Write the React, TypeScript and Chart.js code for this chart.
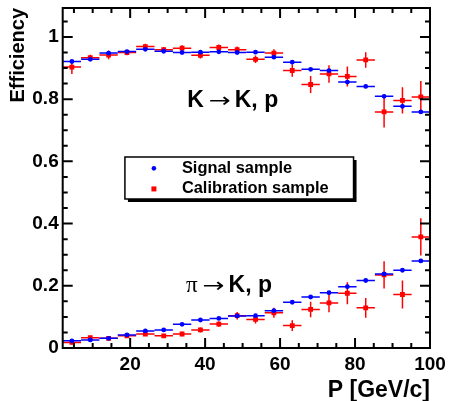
import React, { useEffect, useRef } from "react";
import { Chart, registerables } from "chart.js";
Chart.register(...registerables);

// ---- data ----
const binCenters = [4.45, 9.35, 14.25, 19.15, 24.05, 28.95, 33.85, 38.75, 43.65, 48.55, 53.45, 58.35, 63.25, 68.15, 73.05, 77.95, 82.85, 87.75, 92.65, 97.55];
const binHalfWidth = 2.45;

const kSignal = [0.921, 0.928, 0.948, 0.953, 0.960, 0.954, 0.950, 0.951, 0.952, 0.950, 0.951, 0.935, 0.919, 0.896, 0.892, 0.855, 0.841, 0.809, 0.777, 0.759];
const kSignalErr = [0.004, 0.003, 0.003, 0.003, 0.003, 0.003, 0.003, 0.003, 0.003, 0.003, 0.003, 0.003, 0.003, 0.004, 0.004, 0.004, 0.004, 0.005, 0.006, 0.006];
const kCalib = [0.903, 0.933, 0.942, 0.950, 0.969, 0.959, 0.964, 0.941, 0.966, 0.959, 0.928, 0.948, 0.892, 0.847, 0.881, 0.873, 0.926, 0.759, 0.796, 0.807];
const kCalibErr = [0.022, 0.010, 0.014, 0.009, 0.009, 0.009, 0.009, 0.010, 0.010, 0.010, 0.012, 0.012, 0.020, 0.027, 0.028, 0.032, 0.025, 0.050, 0.042, 0.051];

const piSignal = [0.023, 0.026, 0.031, 0.042, 0.055, 0.058, 0.076, 0.090, 0.095, 0.103, 0.104, 0.120, 0.147, 0.164, 0.178, 0.197, 0.217, 0.238, 0.250, 0.280];
const piSignalErr = [0.002, 0.002, 0.002, 0.002, 0.002, 0.002, 0.002, 0.002, 0.002, 0.003, 0.003, 0.003, 0.003, 0.003, 0.003, 0.004, 0.004, 0.004, 0.005, 0.005];
const piCalib = [0.018, 0.033, 0.031, 0.039, 0.045, 0.039, 0.045, 0.058, 0.077, 0.104, 0.092, 0.113, 0.072, 0.124, 0.145, 0.176, 0.129, 0.235, 0.172, 0.357];
const piCalibErr = [0.007, 0.006, 0.006, 0.006, 0.006, 0.006, 0.007, 0.008, 0.009, 0.012, 0.013, 0.016, 0.017, 0.025, 0.030, 0.035, 0.032, 0.044, 0.045, 0.060];

const xMajorTicks = [20, 40, 60, 80, 100];
const xMinorTicks = [5, 10, 15, 25, 30, 35, 45, 50, 55, 65, 70, 75, 85, 90, 95];
const yMajorTicks = [0, 0.2, 0.4, 0.6, 0.8, 1];
const yMinorTicks = [0.05, 0.1, 0.15, 0.25, 0.3, 0.35, 0.45, 0.5, 0.55, 0.65, 0.7, 0.75, 0.85, 0.9, 0.95, 1.05];

const legendLabels = ["Signal sample", "Calibration sample"];
const xTitle = "P [GeV/c]";
const yTitle = "Efficiency";

const FONT = '"Liberation Sans", Arial, Helvetica, sans-serif';
const BLUE = "#0000ff";
const RED = "#ff0000";

function toPoints(vals: number[], errs: number[]) {
  return vals.map((v, i) => ({ x: binCenters[i], y: v, err: errs[i] }));
}

const rootPlugin = {
  id: "rootStyle",
  beforeDatasetDraw(chart: any, args: any) {
    const ds = chart.data.datasets[args.index];
    const xs = chart.scales.x;
    const ys = chart.scales.y;
    const ctx = chart.ctx;
    const a = chart.chartArea;
    ctx.save();
    ctx.beginPath();
    ctx.rect(a.left, a.top, a.right - a.left, a.bottom - a.top);
    ctx.clip();
    ctx.strokeStyle = ds.borderColor;
    ctx.lineWidth = 1.5;
    ds.data.forEach((p: any) => {
      const px = xs.getPixelForValue(p.x);
      const py = ys.getPixelForValue(p.y);
      const x1 = xs.getPixelForValue(p.x - binHalfWidth);
      const x2 = xs.getPixelForValue(p.x + binHalfWidth);
      const yT = ys.getPixelForValue(p.y + p.err);
      const yB = ys.getPixelForValue(p.y - p.err);
      ctx.beginPath();
      ctx.moveTo(x1, py);
      ctx.lineTo(x2, py);
      ctx.moveTo(px, yT);
      ctx.lineTo(px, yB);
      ctx.stroke();
    });
    ctx.restore();
  },
  afterDraw(chart: any) {
    const xs = chart.scales.x;
    const ys = chart.scales.y;
    const ctx = chart.ctx;
    const a = chart.chartArea;
    ctx.save();
    // frame
    ctx.strokeStyle = "#000";
    ctx.lineWidth = 2;
    ctx.strokeRect(a.left, a.top, a.right - a.left, a.bottom - a.top);
    // ticks
    const drawX = (v: number, len: number) => {
      const px = xs.getPixelForValue(v);
      ctx.beginPath();
      ctx.moveTo(px, a.bottom);
      ctx.lineTo(px, a.bottom - len);
      ctx.moveTo(px, a.top);
      ctx.lineTo(px, a.top + len);
      ctx.stroke();
    };
    const drawY = (v: number, len: number) => {
      const py = ys.getPixelForValue(v);
      ctx.beginPath();
      ctx.moveTo(a.left, py);
      ctx.lineTo(a.left + len, py);
      ctx.moveTo(a.right, py);
      ctx.lineTo(a.right - len, py);
      ctx.stroke();
    };
    xMajorTicks.forEach((v) => drawX(v, 10));
    xMinorTicks.forEach((v) => drawX(v, 5));
    yMajorTicks.forEach((v) => drawY(v, 10));
    yMinorTicks.forEach((v) => drawY(v, 5));

    // legend box
    const lx1 = xs.getPixelForValue(18.6);
    const lx2 = xs.getPixelForValue(79.6);
    const ly1 = ys.getPixelForValue(0.614);
    const ly2 = ys.getPixelForValue(0.479);
    ctx.fillStyle = "#000";
    ctx.fillRect(lx1 + 3, ly1 + 3, lx2 - lx1, ly2 - ly1);
    ctx.fillStyle = "#fff";
    ctx.fillRect(lx1, ly1, lx2 - lx1, ly2 - ly1);
    ctx.lineWidth = 1.5;
    ctx.strokeStyle = "#000";
    ctx.strokeRect(lx1, ly1, lx2 - lx1, ly2 - ly1);
    const mx = lx1 + 29;
    const textX = lx1 + 57;
    const row1 = ly1 + (ly2 - ly1) * 0.27;
    const row2 = ly1 + (ly2 - ly1) * 0.76;
    ctx.fillStyle = BLUE;
    ctx.beginPath();
    ctx.arc(mx, row1, 2.3, 0, Math.PI * 2);
    ctx.fill();
    ctx.fillStyle = RED;
    ctx.fillRect(mx - 2.5, row2 - 2.5, 5, 5);
    ctx.fillStyle = "#000";
    ctx.font = `bold 16.4px ${FONT}`;
    ctx.textBaseline = "middle";
    ctx.textAlign = "left";
    ctx.fillText(legendLabels[0], textX, row1);
    ctx.fillText(legendLabels[1], textX, row2);

    // annotations
    const drawLabel = (first: string, firstFont: string, xVal: number, yVal: number) => {
      let x = xs.getPixelForValue(xVal);
      const y = ys.getPixelForValue(yVal);
      ctx.fillStyle = "#000";
      ctx.textBaseline = "middle";
      ctx.textAlign = "left";
      ctx.font = firstFont;
      ctx.fillText(first, x, y);
      x += ctx.measureText(first).width + 5;
      ctx.font = `20px "DejaVu Sans", ${FONT}`;
      const aw = ctx.measureText("\u2192").width;
      ctx.save();
      ctx.translate(x, y + 1);
      ctx.scale(22 / aw, 1);
      ctx.fillText("\u2192", 0, 0);
      ctx.restore();
      x += 22 + 4;
      ctx.font = `bold 23px ${FONT}`;
      ctx.fillText("K, p", x, y);
    };
    drawLabel("K", `bold 23px ${FONT}`, 35.2, 0.795);
    drawLabel("\u03c0", `23px "Liberation Serif", "DejaVu Serif", serif`, 34.9, 0.201);
    ctx.restore();
  },
};

export default function App() {
  const ref = useRef<HTMLCanvasElement>(null);
  useEffect(() => {
    if (!ref.current) return;
    const chart = new Chart(ref.current, {
      type: "scatter",
      data: {
        datasets: [
          { label: legendLabels[0], data: toPoints(kSignal, kSignalErr) as any, borderColor: BLUE, backgroundColor: BLUE, pointStyle: "circle", pointRadius: 2.4, pointBorderWidth: 0 },
          { label: legendLabels[1], data: toPoints(kCalib, kCalibErr) as any, borderColor: RED, backgroundColor: RED, pointStyle: "rect", pointRadius: 3.4, pointBorderWidth: 0 },
          { label: legendLabels[0], data: toPoints(piSignal, piSignalErr) as any, borderColor: BLUE, backgroundColor: BLUE, pointStyle: "circle", pointRadius: 2.4, pointBorderWidth: 0 },
          { label: legendLabels[1], data: toPoints(piCalib, piCalibErr) as any, borderColor: RED, backgroundColor: RED, pointStyle: "rect", pointRadius: 3.4, pointBorderWidth: 0 },
        ],
      },
      options: {
        responsive: false,
        animation: false,
        devicePixelRatio: 1,
        layout: { padding: { left: 0, top: 8, right: 19, bottom: 0 } },
        plugins: { legend: { display: false }, tooltip: { enabled: false } },
        scales: {
          x: {
            type: "linear",
            min: 2,
            max: 100,
            afterBuildTicks: (s: any) => {
              s.ticks = xMajorTicks.map((v) => ({ value: v }));
            },
            afterFit: (s: any) => {
              s.height = 53;
              s.paddingLeft = 0;
              s.paddingRight = 0;
            },
            ticks: { color: "#000", font: { family: FONT, size: 19, weight: "bold" }, padding: 5, maxRotation: 0, autoSkip: false },
            grid: { display: false, drawTicks: false },
            border: { display: false },
            title: { display: true, text: xTitle, align: "end", color: "#000", font: { family: FONT, size: 23, weight: "bold" }, padding: { top: 0, bottom: -3 } },
          },
          y: {
            type: "linear",
            min: 0,
            max: 1.093,
            afterBuildTicks: (s: any) => {
              s.ticks = yMajorTicks.map((v) => ({ value: v }));
            },
            afterFit: (s: any) => {
              s.width = 62.7;
              s.paddingTop = 0;
              s.paddingBottom = 0;
            },
            ticks: { color: "#000", font: { family: FONT, size: 19, weight: "bold" }, padding: 4, callback: (v: any) => String(Math.round(v * 10) / 10) },
            grid: { display: false, drawTicks: false },
            border: { display: false },
            title: { display: true, text: yTitle, align: "end", color: "#000", font: { family: FONT, size: 20, weight: "bold" }, padding: { top: 6, bottom: 0 } },
          },
        },
      },
      plugins: [rootPlugin],
    });
    return () => chart.destroy();
  }, []);
  return (
    <div style={{ position: "absolute", left: 0, top: 0, width: 449, height: 401, background: "#fff" }}>
      <canvas ref={ref} width={449} height={401} />
    </div>
  );
}
